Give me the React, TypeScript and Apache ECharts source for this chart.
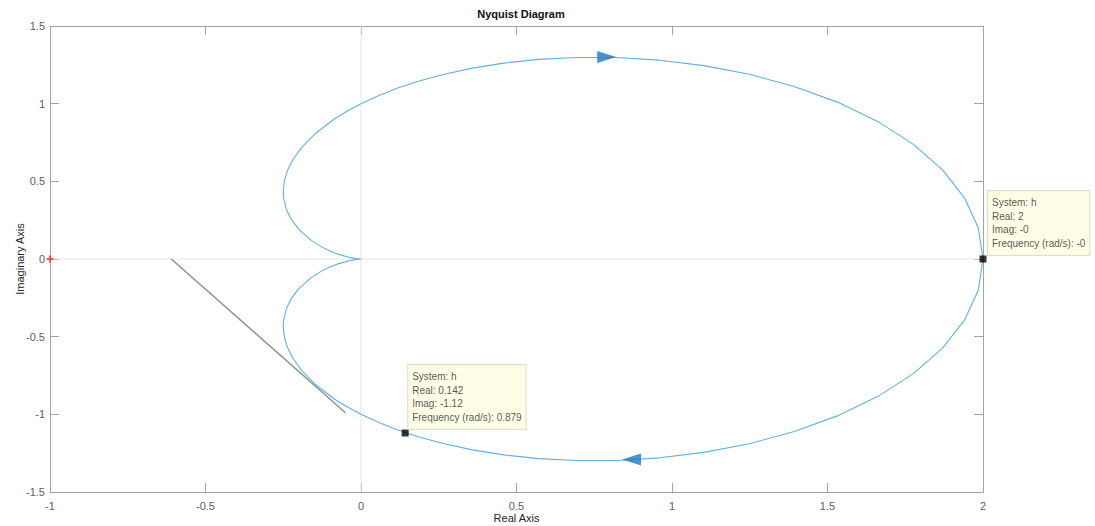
import React, { useEffect, useRef } from "react";
import * as echarts from "echarts";

// Nyquist curve, upper branch (from origin outward to the real-axis crossing at 2)
const upperReal = [0, -0.005, -0.0194, -0.0384, -0.071, -0.1038, -0.1282, -0.16, -0.1998, -0.2252, -0.24, -0.2492, -0.25, -0.2462, -0.2367, -0.2191, -0.1907, -0.1478, -0.086, -0.0464, 0, 0.0539, 0.116, 0.1871, 0.2677, 0.3584, 0.4594, 0.5708, 0.692, 0.8223, 0.96, 1.103, 1.2485, 1.3928, 1.5319, 1.6609, 1.7752, 1.8699, 1.941, 1.9851, 2];
const upperImag = [0, 0.0005, 0.0039, 0.0112, 0.0296, 0.0554, 0.0797, 0.12, 0.1903, 0.258, 0.32, 0.4005, 0.433, 0.505, 0.5681, 0.6392, 0.7186, 0.8062, 0.9009, 0.9501, 1, 1.0499, 1.0989, 1.1459, 1.1898, 1.2288, 1.2612, 1.2849, 1.2976, 1.2968, 1.28, 1.2448, 1.1891, 1.1111, 1.01, 0.8858, 0.7396, 0.5739, 0.3921, 0.199, 0];
// lower branch (from 2 back to the origin)
const lowerReal = [2, 1.9851, 1.941, 1.8699, 1.7752, 1.6609, 1.5319, 1.3928, 1.2485, 1.103, 0.96, 0.8223, 0.692, 0.5708, 0.4594, 0.3584, 0.2677, 0.1871, 0.116, 0.0539, 0, -0.0464, -0.086, -0.1478, -0.1907, -0.2191, -0.2367, -0.2462, -0.25, -0.2492, -0.24, -0.2252, -0.1998, -0.16, -0.1282, -0.1038, -0.071, -0.0384, -0.0194, -0.005, 0];
const lowerImag = [0, -0.199, -0.3921, -0.5739, -0.7396, -0.8858, -1.01, -1.1111, -1.1891, -1.2448, -1.28, -1.2968, -1.2976, -1.2849, -1.2612, -1.2288, -1.1898, -1.1459, -1.0989, -1.0499, -1, -0.9501, -0.9009, -0.8062, -0.7186, -0.6392, -0.5681, -0.505, -0.433, -0.4005, -0.32, -0.258, -0.1903, -0.12, -0.0797, -0.0554, -0.0296, -0.0112, -0.0039, -0.0005, 0];

// direction arrows on the curve
const arrowRightPt = [0.79, 1.3];
const arrowLeftPt = [0.87, -1.29];

// grey straight line
const greyLineReal = [-0.61, -0.05];
const greyLineImag = [0, -0.99];

// critical point
const criticalPt = [-1, 0];

// data tips
const tip1 = { real: 2, imag: 0, lines: ["System: h", "Real: 2", "Imag: -0", "Frequency (rad/s): -0"] };
const tip2 = { real: 0.142, imag: -1.12, lines: ["System: h", "Real: 0.142", "Imag: -1.12", "Frequency (rad/s): 0.879"] };

// axis ranges / ticks
const xMin = -1, xMax = 2, xStep = 0.5;
const yMin = -1.5, yMax = 1.5, yStep = 0.5;

const FONT = "'Liberation Sans', Arial, Helvetica, sans-serif";
const FRAME = "#a3a3a3";
const TICKLABEL = "#5e5e5e";

export default function App() {
  const ref = useRef<HTMLDivElement>(null);
  useEffect(() => {
    if (!ref.current) return;
    const chart = echarts.init(ref.current, undefined, { renderer: "svg" });

    const curve: number[][] = [];
    upperReal.forEach((r, i) => curve.push([r, upperImag[i]]));
    lowerReal.forEach((r, i) => curve.push([r, lowerImag[i]]));

    const tipLabel = (lines: string[], pos: number[]) => ({
      show: true,
      position: pos,
      formatter: lines.join("\n"),
      backgroundColor: "#ffffe1",
      borderColor: "#d6d6c4",
      borderWidth: 1,
      padding: [5, 4, 5, 4],
      fontSize: 10,
      lineHeight: 13.5,
      color: "#2a2a2a",
      fontFamily: FONT,
      align: "left",
      verticalAlign: "top",
    });

    const baseX = {
      type: "value",
      min: xMin,
      max: xMax,
      interval: xStep,
      splitLine: { show: false },
      axisLine: { show: true, onZero: false, lineStyle: { color: FRAME, width: 1 } },
      axisTick: { show: true, inside: true, length: 9, lineStyle: { color: FRAME } },
    };
    const baseY = {
      type: "value",
      min: yMin,
      max: yMax,
      interval: yStep,
      splitLine: { show: false },
      axisLine: { show: true, onZero: false, lineStyle: { color: FRAME, width: 1 } },
      axisTick: { show: true, inside: true, length: 9, lineStyle: { color: FRAME } },
    };

    chart.setOption({
      animation: false,
      backgroundColor: "#ffffff",
      title: {
        text: "Nyquist Diagram",
        left: 516,
        textAlign: "center",
        top: 3,
        textStyle: { fontSize: 11, fontWeight: "bold", color: "#111", fontFamily: FONT },
      },
      grid: { left: 50, right: 112, top: 26, bottom: 34, containLabel: false, outerBoundsMode: "none" },
      xAxis: [
        {
          ...baseX,
          position: "bottom",
          name: "Real Axis",
          nameLocation: "middle",
          nameGap: 20,
          nameMoveOverlap: false,
          nameTextStyle: { fontSize: 11, color: "#262626", fontFamily: FONT },
          axisLabel: { show: true, fontSize: 11, color: TICKLABEL, margin: 8, fontFamily: FONT },
        },
        { ...baseX, position: "top", axisLabel: { show: false } },
      ],
      yAxis: [
        {
          ...baseY,
          position: "left",
          name: "Imaginary Axis",
          nameLocation: "middle",
          nameGap: 25,
          nameMoveOverlap: false,
          nameTextStyle: { fontSize: 11, color: "#262626", fontFamily: FONT },
          axisLabel: { show: true, fontSize: 11, color: TICKLABEL, margin: 5, fontFamily: FONT },
        },
        { ...baseY, position: "right", axisLabel: { show: false } },
      ],
      series: [
        {
          type: "line",
          data: [[0, yMin], [0, yMax]],
          showSymbol: false,
          silent: true,
          lineStyle: { color: "#e6e6e6", width: 1 },
          z: 1,
        },
        {
          type: "line",
          data: [[xMin, 0], [xMax, 0]],
          showSymbol: false,
          silent: true,
          lineStyle: { color: "#e6e6e6", width: 1 },
          z: 1,
        },
        {
          type: "line",
          data: curve,
          showSymbol: false,
          lineStyle: { color: "#62b0e0", width: 1.1 },
          z: 3,
        },
        {
          type: "line",
          data: greyLineReal.map((r, i) => [r, greyLineImag[i]]),
          showSymbol: false,
          lineStyle: { color: "#8f8f8f", width: 1.5 },
          z: 2,
        },
        {
          type: "scatter",
          data: [arrowRightPt],
          symbol: "triangle",
          symbolSize: [12, 19],
          symbolRotate: -90,
          itemStyle: { color: "#1f78c1" },
          z: 4,
        },
        {
          type: "scatter",
          data: [arrowLeftPt],
          symbol: "triangle",
          symbolSize: [12, 19],
          symbolRotate: 90,
          itemStyle: { color: "#1f78c1" },
          z: 4,
        },
        {
          type: "scatter",
          data: [criticalPt],
          symbol: "path://M2.5,0h2v2.5h2.5v2h-2.5v2.5h-2v-2.5h-2.5v-2h2.5z",
          symbolSize: 7,
          itemStyle: { color: "#ff2a2a" },
          clip: false,
          z: 5,
        },
        {
          type: "scatter",
          data: [[tip1.real, tip1.imag]],
          symbol: "rect",
          symbolSize: 7,
          itemStyle: { color: "#000" },
          clip: false,
          label: tipLabel(tip1.lines, [8.5, -64.5]),
          z: 6,
        },
        {
          type: "scatter",
          data: [[tip2.real, tip2.imag]],
          symbol: "rect",
          symbolSize: 7,
          itemStyle: { color: "#000" },
          clip: false,
          label: tipLabel(tip2.lines, [6.5, -64.5]),
          z: 6,
        },
      ],
    });
    return () => chart.dispose();
  }, []);
  return (
    <div
      ref={ref}
      style={{ position: "fixed", left: 0, top: 0, width: 1095, height: 526 }}
    />
  );
}
